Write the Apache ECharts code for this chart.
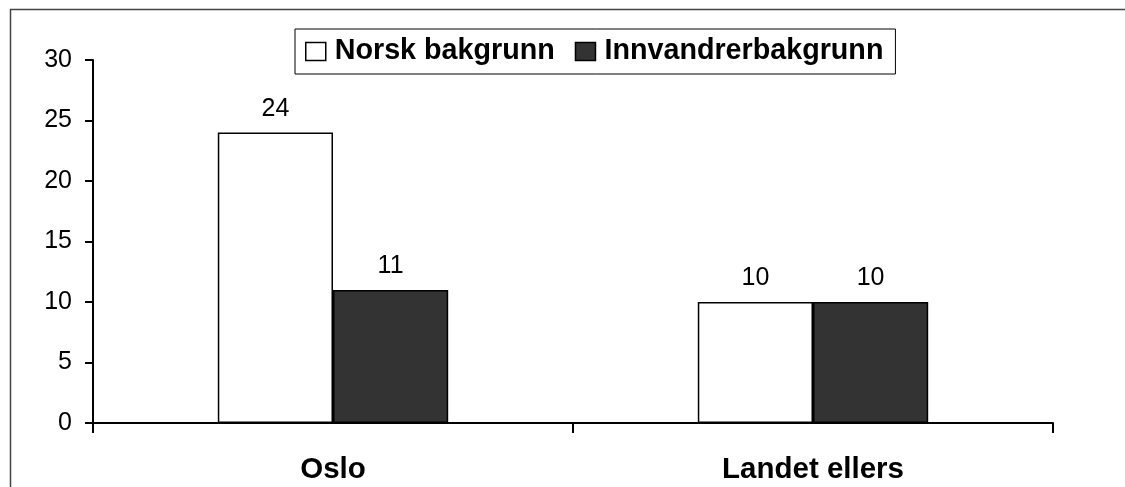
<!DOCTYPE html>
<html>
<head>
    <meta charset="utf-8">
    <title></title>
    <script src="https://cdn.jsdelivr.net/npm/echarts@6/dist/echarts.min.js"></script>
    <style>
        html, body { margin: 0; padding: 0; background: #fff; }
    </style>
</head>
<body>
<div id="main" style="width: 1125px;height:487px;"></div>
<script type="text/javascript">
var categories = ['Oslo', 'Landet ellers'];
var seriesNames = ['Norsk bakgrunn', 'Innvandrerbakgrunn'];
var norsk = [24, 10];
var innvandrer = [11, 10];
var yTicks = [0, 5, 10, 15, 20, 25, 30];

var font = 'Liberation Sans, Arial, Helvetica, sans-serif';
var myChart = echarts.init(document.getElementById('main'));

function barSeries(name, data, fill) {
    return {
        name: name,
        type: 'bar',
        data: data,
        barWidth: '24%',
        barGap: '0%',
        itemStyle: { color: fill, borderColor: '#000', borderWidth: 1.5 },
        label: {
            show: true,
            position: 'top',
            distance: 11,
            color: '#000',
            fontFamily: font,
            fontSize: 25
        }
    };
}

myChart.setOption({
    animation: false,
    backgroundColor: '#fff',
    textStyle: { fontFamily: font },
    grid: { left: 93, right: 72, top: 60, bottom: 64 },
    legend: {
        data: seriesNames,
        left: 295,
        top: 29,
        padding: [8, 12, 8, 10],
        borderColor: '#000',
        borderWidth: 1,
        itemWidth: 20,
        itemHeight: 18,
        itemGap: 20,
        icon: 'rect',
        itemStyle: { borderColor: '#000', borderWidth: 1.5 },
        textStyle: { fontSize: 28.7, fontWeight: 'bold', color: '#000', fontFamily: font, padding: [0, 0, 0, 4] }
    },
    xAxis: {
        type: 'category',
        data: categories,
        axisLine: { lineStyle: { color: '#000', width: 2 } },
        axisTick: { show: true, length: 10, lineStyle: { color: '#000', width: 2 } },
        axisLabel: { color: '#000', fontSize: 29.5, fontWeight: 'bold', margin: 32, fontFamily: font }
    },
    yAxis: {
        type: 'value',
        min: yTicks[0],
        max: yTicks[yTicks.length - 1],
        interval: 5,
        splitLine: { show: false },
        axisLine: { show: true, lineStyle: { color: '#000', width: 2 } },
        axisTick: { show: true, length: 8, lineStyle: { color: '#000', width: 2 } },
        axisLabel: { color: '#000', fontSize: 25, margin: 21, fontFamily: font }
    },
    graphic: [{
        type: 'polyline',
        silent: true,
        shape: { points: [[10.5, 487], [10.5, 9.5], [1125, 9.5]] },
        style: { stroke: '#444', lineWidth: 1.5, fill: null }
    }],
    series: [
        barSeries(seriesNames[0], norsk, '#ffffff'),
        barSeries(seriesNames[1], innvandrer, '#333333')
    ]
});
</script>
</body>
</html>
